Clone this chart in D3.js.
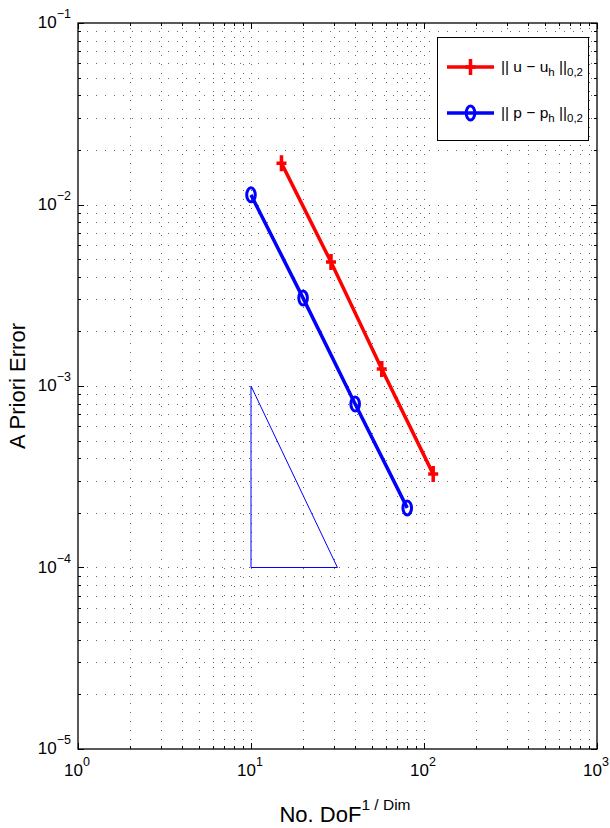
<!DOCTYPE html>
<html>
<head>
<meta charset="utf-8">
<script src="https://cdn.jsdelivr.net/npm/d3@7"></script>
<style>
  body { margin: 0; background: #fff; }
  text { font-family: "Liberation Sans", Arial, sans-serif; fill: #000; }
</style>
</head>
<body>
<svg id="chart" width="610" height="828"></svg>
<script>
// values
const dofU = [15, 29, 57, 113]
const errU = [0.0169, 0.00482, 0.00124, 0.000327]
const dofP = [10, 20, 40, 80]
const errP = [0.0113, 0.00305, 0.000796, 0.000213]
// slope triangle
const triX = [10, 10, 31.6]
const triY = [1e-3, 1e-4, 1e-4]

const xExp = [0, 1, 2, 3]
const yExp = [-5, -4, -3, -2, -1]

const m = { left: 78, top: 23, right: 597, bottom: 749 }

const svg = d3.select('#chart')

const x = d3.scaleLog().domain([1, 1000]).range([m.left, m.right])
const y = d3.scaleLog().domain([1e-5, 1e-1]).range([m.bottom, m.top])

// major + minor positions for each decade
const minors = (lo, hi) => {
    let out = []
    for (let e = lo; e < hi; e++) {
        for (let k = 2; k <= 9; k++) out.push(k * Math.pow(10, e))
    }
    return out
}
const xMinor = minors(0, 3)
const yMinor = minors(-5, -1)
const xMajor = xExp.map(e => Math.pow(10, e))
const yMajor = yExp.map(e => Math.pow(10, e))

// dotted grid
const grid = svg.append('g')
    .attr('stroke', '#666')
    .attr('stroke-width', 1)
    .attr('stroke-dasharray', '1,8')

grid.selectAll('.gx')
    .data(xMinor.concat(xMajor.slice(1, -1)))
    .join('line')
    .attr('x1', d => Math.round(x(d)) + 0.5).attr('x2', d => Math.round(x(d)) + 0.5)
    .attr('y1', m.bottom).attr('y2', m.top)

grid.selectAll('.gy')
    .data(yMinor.concat(yMajor.slice(1, -1)))
    .join('line')
    .attr('y1', d => Math.round(y(d)) + 0.5).attr('y2', d => Math.round(y(d)) + 0.5)
    .attr('x1', m.left).attr('x2', m.right)

// ticks pointing inward on all four sides
const ticks = svg.append('g').attr('stroke', '#000').attr('stroke-width', 1)
const tick = (vals, len) => {
    vals.forEach(v => {
        let px = Math.round(x(v)) + 0.5
        ticks.append('line').attr('x1', px).attr('x2', px).attr('y1', m.bottom).attr('y2', m.bottom - len)
        ticks.append('line').attr('x1', px).attr('x2', px).attr('y1', m.top).attr('y2', m.top + len)
    })
}
const tickY = (vals, len) => {
    vals.forEach(v => {
        let py = Math.round(y(v)) + 0.5
        ticks.append('line').attr('y1', py).attr('y2', py).attr('x1', m.left).attr('x2', m.left + len)
        ticks.append('line').attr('y1', py).attr('y2', py).attr('x1', m.right).attr('x2', m.right - len)
    })
}
tick(xMinor, 3)
tick(xMajor, 6)
tickY(yMinor, 3)
tickY(yMajor, 6)

// axes box
svg.append('rect')
    .attr('x', m.left).attr('y', m.top)
    .attr('width', m.right - m.left).attr('height', m.bottom - m.top)
    .attr('fill', 'none').attr('stroke', '#000').attr('stroke-width', 1.3)

// tick labels 10^n
xExp.forEach(e => {
    let t = svg.append('text')
        .attr('x', x(Math.pow(10, e)) - 1)
        .attr('y', m.bottom + 27)
        .attr('text-anchor', 'middle')
        .style('font-size', '17px')
    t.append('tspan').text('10')
    t.append('tspan').attr('dy', -10).style('font-size', '12.5px').text(e)
})
yExp.forEach(e => {
    let t = svg.append('text')
        .attr('x', m.left - 7)
        .attr('y', y(Math.pow(10, e)) + 5)
        .attr('text-anchor', 'end')
        .style('font-size', '17px')
    t.append('tspan').text('10')
    t.append('tspan').attr('dy', -10).style('font-size', '12.5px').text('\u2212' + Math.abs(e))
})

// axis titles
const xl = svg.append('text')
    .attr('x', 345).attr('y', 822)
    .attr('text-anchor', 'middle')
    .style('font-size', '22px')
xl.append('tspan').text('No. DoF')
xl.append('tspan').attr('dy', -12).style('font-size', '15.5px').text('1 / Dim')

svg.append('text')
    .attr('transform', `translate(25,${(m.top + m.bottom) / 2}) rotate(-90)`)
    .attr('text-anchor', 'middle')
    .style('font-size', '22px')
    .text('A Priori Error')

// slope triangle
const tri = d3.zip(triX, triY)
svg.append('path')
    .attr('d', d3.line().x(d => x(d[0])).y(d => y(d[1]))(tri) + 'Z')
    .attr('fill', 'none')
    .attr('stroke', '#0000ff')
    .attr('stroke-width', 1)

const line = d3.line().x(d => x(d[0])).y(d => y(d[1]))
const redData = d3.zip(dofU, errU)
const blueData = d3.zip(dofP, errP)

svg.append('path').attr('d', line(redData))
    .attr('fill', 'none').attr('stroke', '#ff0000').attr('stroke-width', 3.5)
svg.append('path').attr('d', line(blueData))
    .attr('fill', 'none').attr('stroke', '#0000ff').attr('stroke-width', 3.5)

// plus markers
const plus = (g, cx, cy) => {
    g.append('path')
        .attr('d', `M${cx - 5},${cy}H${cx + 5}M${cx},${cy - 8}V${cy + 8}`)
        .attr('stroke', '#ff0000').attr('stroke-width', 3.5).attr('fill', 'none')
}
const ring = (g, cx, cy) => {
    g.append('ellipse')
        .attr('cx', cx).attr('cy', cy).attr('rx', 4.3).attr('ry', 7)
        .attr('stroke', '#0000ff').attr('stroke-width', 3).attr('fill', 'none')
}
const marks = svg.append('g')
redData.forEach(d => plus(marks, x(d[0]), y(d[1])))
blueData.forEach(d => ring(marks, x(d[0]), y(d[1])))

// legend
const lg = svg.append('g')
lg.append('rect')
    .attr('x', 437.5).attr('y', 37.5).attr('width', 151).attr('height', 103)
    .attr('fill', '#fff').attr('stroke', '#000').attr('stroke-width', 1)

const items = [
    { color: '#ff0000', y: 67, v: 'u', marker: plus },
    { color: '#0000ff', y: 113, v: 'p', marker: ring }
]
items.forEach(it => {
    lg.append('line')
        .attr('x1', 447).attr('x2', 494).attr('y1', it.y).attr('y2', it.y)
        .attr('stroke', it.color).attr('stroke-width', 3.5)
    it.marker(lg, 470.5, it.y)
    let t = lg.append('text')
        .attr('x', 501).attr('y', it.y + 5)
        .style('font-size', '15.5px')
    t.append('tspan').text('|| ' + it.v + ' \u2212 ' + it.v)
    t.append('tspan').attr('dy', 4).style('font-size', '11.5px').text('h')
    t.append('tspan').attr('dy', -4).text(' ||')
    t.append('tspan').attr('dy', 4).style('font-size', '11.5px').text('0,2')
})
</script>
</body>
</html>
